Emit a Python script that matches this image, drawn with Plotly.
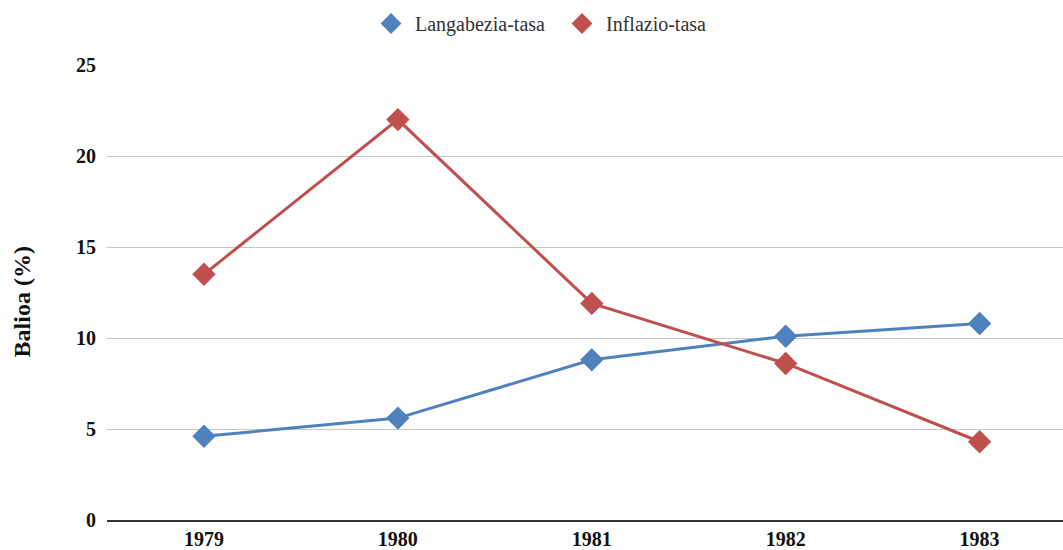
import plotly.graph_objects as go

years = ["1979", "1980", "1981", "1982", "1983"]
langabezia = [4.6, 5.6, 8.8, 10.1, 10.8]
inflazio = [13.5, 22.0, 11.9, 8.6, 4.3]
y_ticks = [0, 5, 10, 15, 20, 25]
names = ["Langabezia-tasa", "Inflazio-tasa"]
colors = ["#4F81BD", "#C0504D"]

fig = go.Figure()
for vals, name, col in zip([langabezia, inflazio], names, colors):
    fig.add_trace(go.Scatter(x=years, y=vals, name=name, mode="lines+markers", showlegend=False,
                             line=dict(color=col, width=3),
                             marker=dict(symbol="diamond", size=18, color=col)))
# legend-only entries (marker only, as in the reference)
for name, col in zip(names, colors):
    fig.add_trace(go.Scatter(x=[None], y=[None], name=name, mode="markers",
                             marker=dict(symbol="diamond", size=16, color=col)))

FW, FH = 1063, 550
T, B = 65, 27
fig.update_layout(
    width=FW, height=FH,
    margin=dict(l=107, r=0, t=T, b=B),
    plot_bgcolor="white", paper_bgcolor="white",
    font=dict(family="Liberation Serif", size=20, color="#222"),
    showlegend=True,
    legend=dict(orientation="h", xref="container", x=367 / FW, xanchor="left",
                y=1.0 - 4 / FH, yanchor="top", yref="container",
                font=dict(size=20, color="#333"), itemwidth=38,
                entrywidth=138, entrywidthmode="pixels", tracegroupgap=0),
    xaxis=dict(type="category", range=[-0.5, 4.43], showgrid=False, showline=True,
               linecolor="#333", linewidth=2, ticks="",
               tickfont=dict(family="Liberation Serif", size=20, color="#111", weight="bold")),
    yaxis=dict(range=[0, 25], tickvals=y_ticks, showgrid=True, gridcolor="#C8C8C8", gridwidth=1,
               zeroline=False, ticks="", ticklabelstandoff=10,
               tickfont=dict(family="Liberation Serif", size=20, color="#111", weight="bold")),
)
plot_h = FH - T - B
fig.add_annotation(text="Balioa (%)", textangle=-90, showarrow=False,
                   xref="paper", x=0, xshift=-(107 - 22), xanchor="center",
                   yref="paper", y=(FH - B - 304) / plot_h, yanchor="middle",
                   font=dict(family="Liberation Serif", size=24, color="#111", weight="bold"))
fig.write_html("out.html", config={"displayModeBar": False},
               post_script="document.body.style.margin='0';document.body.style.overflow='hidden';")
